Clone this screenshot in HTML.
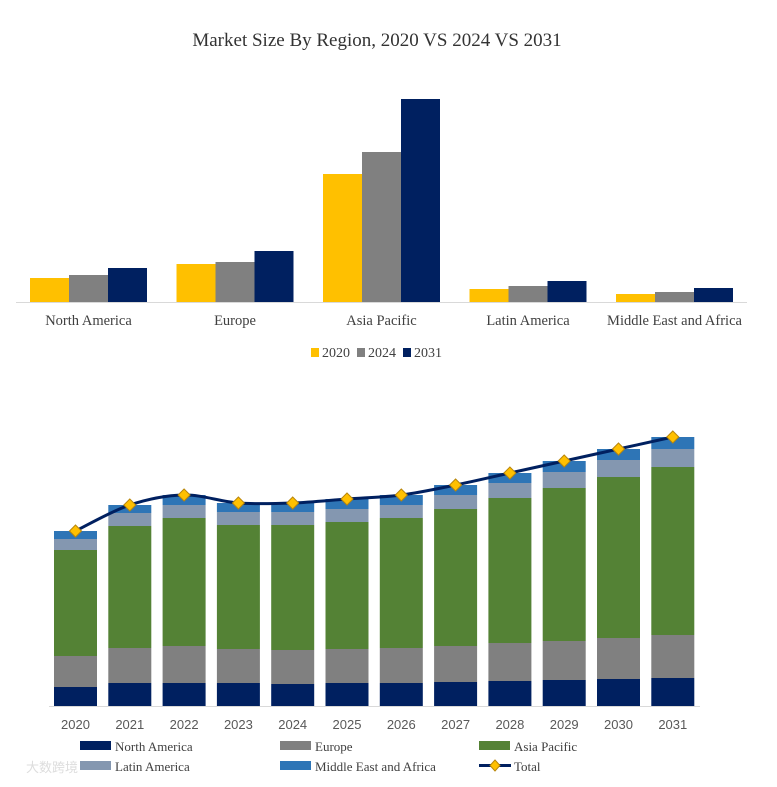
<!DOCTYPE html>
<html><head><meta charset="utf-8"><style>
body{margin:0;background:#fff;width:777px;height:782px;overflow:hidden}
svg text{font-family:"Liberation Serif",serif}
svg text.sans{font-family:"Liberation Sans",sans-serif}
</style></head><body>
<svg width="777" height="782">
<text x="377" y="46" text-anchor="middle" font-size="19" fill="#333">Market Size By Region, 2020 VS 2024 VS 2031</text>
<g id="top"></g>
<g id="bottom"></g>
<text x="26" y="772" font-size="13" fill="#ddd" style="font-family:'Liberation Sans','Noto Sans CJK SC',sans-serif">大数跨境</text>
</svg>
<script>
const NS="http://www.w3.org/2000/svg";
function mk(p,t,a){const e=document.createElementNS(NS,t);for(const k in a)e.setAttribute(k,a[k]);p.appendChild(e);return e;}
// top chart data
const regions=["North America","Europe","Asia Pacific","Latin America","Middle East and Africa"];
const years=["2020","2024","2031"];
const v2020=[24,38,128,13,8];
const v2024=[27,40,150,16,10];
const v2031=[34,51,203,21,14];
const topColors=["#FFC000","#808080","#002060"];
// bottom chart data
const bYears=["2020","2021","2022","2023","2024","2025","2026","2027","2028","2029","2030","2031"];
const northAmerica=[19,23,23,23,22,23,23,24,25,26,27,28];
const europe=[31,35,37,34,34,34,35,36,38,39,41,43];
const asiaPacific=[106,122,128,124,125,127,130,137,145,153,161,168];
const latinAmerica=[11,13,13,13,13,13,13,14,15,16,17,18];
const mea=[8,8,10,9,9,10,10,10,10,11,11,12];
const segNames=["North America","Europe","Asia Pacific","Latin America","Middle East and Africa"];
const segColors=["#002060","#808080","#548235","#8497B0","#2E75B6"];

// top chart
const T=document.getElementById("top");
const tBase=302, tScale=1;
const gx=i=>30+i*146.5;
const ty=v=>tBase-v*tScale;
mk(T,"line",{x1:16,y1:tBase+0.5,x2:747,y2:tBase+0.5,stroke:"#d9d9d9","stroke-width":1});
const tSeries=[v2020,v2024,v2031];
regions.forEach((r,i)=>{
  tSeries.forEach((s,j)=>{
    const el=mk(T,"rect",{x:gx(i)+j*39,y:ty(s[i]),width:39,height:s[i]*tScale,fill:topColors[j]});
    
    
  });
  const t=mk(T,"text",{x:gx(i)+58.5,y:325,"text-anchor":"middle","font-size":"14.5",fill:"#404040"});
  t.textContent=r;
  
  
});
let lx=311;
years.forEach((y,j)=>{
  const r=mk(T,"rect",{x:lx,y:348,width:8,height:9,fill:topColors[j]});
  
  
  const t=mk(T,"text",{x:lx+11,y:357,"font-size":"14",fill:"#404040"});
  t.textContent=y;
  
  
  lx+=46;
});

// bottom chart
const B=document.getElementById("bottom");
const bBase=706, bScale=1;
const bx=i=>54+i*54.3;
const by=v=>bBase-v*bScale;
mk(B,"line",{x1:49,y1:bBase+0.5,x2:700,y2:bBase+0.5,stroke:"#d9d9d9","stroke-width":1});
const segs=[northAmerica,europe,asiaPacific,latinAmerica,mea];
const totals=[];
bYears.forEach((y,i)=>{
  let acc=0;
  segs.forEach((s,k)=>{
    const el=mk(B,"rect",{x:bx(i),y:by(acc+s[i]),width:43,height:s[i]*bScale,fill:segColors[k]});
    
    
    acc+=s[i];
  });
  totals.push(acc);
  const t=mk(B,"text",{x:bx(i)+21.5,y:729,"text-anchor":"middle","font-size":"13",fill:"#595959","class":"sans"});
  t.textContent=y;
  
  
});
// smooth total line
const pts=totals.map((v,i)=>[bx(i)+21.5,by(v)]);
let d="M"+pts[0][0]+","+pts[0][1];
for(let i=0;i<pts.length-1;i++){
  const p0=pts[i-1]||pts[i],p1=pts[i],p2=pts[i+1],p3=pts[i+2]||p2;
  const c1=[p1[0]+(p2[0]-p0[0])/6,p1[1]+(p2[1]-p0[1])/6];
  const c2=[p2[0]-(p3[0]-p1[0])/6,p2[1]-(p3[1]-p1[1])/6];
  d+=` C${c1[0]},${c1[1]} ${c2[0]},${c2[1]} ${p2[0]},${p2[1]}`;
}
const line=mk(B,"path",{d:d,fill:"none",stroke:"#002060","stroke-width":3});


pts.forEach((p,i)=>{
  const m=mk(B,"polygon",{points:`${p[0]},${p[1]-6} ${p[0]+6},${p[1]} ${p[0]},${p[1]+6} ${p[0]-6},${p[1]}`,fill:"#FFC000",stroke:"#B8860B","stroke-width":1});
  
  
});
// legend
const legPos=[[80,747],[280,747],[479,747],[80,767],[280,767],[479,767]];
const legNames=segNames.concat(["Total"]);
legNames.forEach((n,k)=>{
  const [x,y]=legPos[k];
  if(k<5){
    const r=mk(B,"rect",{x:x,y:y-6,width:31,height:9,fill:segColors[k]});
    
    
  } else {
    mk(B,"line",{x1:x,y1:y-1.5,x2:x+32,y2:y-1.5,stroke:"#002060","stroke-width":3});
    mk(B,"polygon",{points:`${x+16},${y-7} ${x+21},${y-1.5} ${x+16},${y+4} ${x+11},${y-1.5}`,fill:"#FFC000",stroke:"#B8860B"});
  }
  const t=mk(B,"text",{x:x+35,y:y+4,"font-size":"13",fill:"#404040"});
  t.textContent=n;
  
  
});
</script>
</body></html>
